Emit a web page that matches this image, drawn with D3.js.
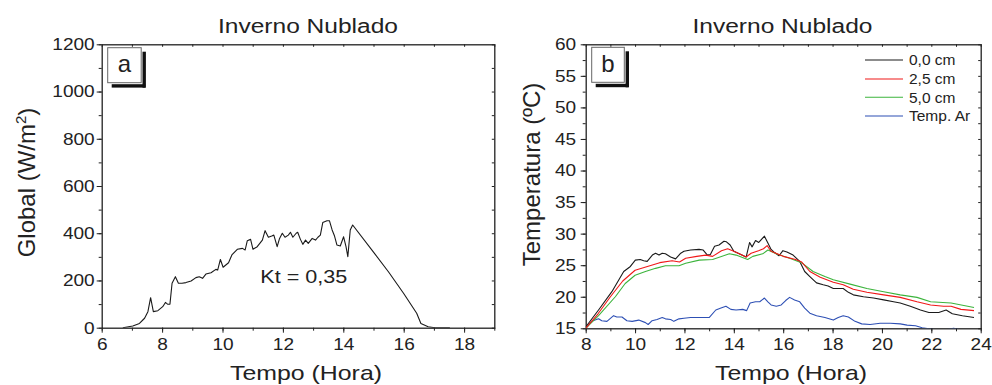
<!DOCTYPE html>
<html>
<head>
<meta charset="utf-8">
<script src="https://cdnjs.cloudflare.com/ajax/libs/d3/7.8.5/d3.min.js"></script>
<style>
  html, body { margin: 0; padding: 0; background: #fff; }
  svg { display: block; font-family: "Liberation Sans", Arial, sans-serif; }
</style>
</head>
<body>
<svg id="chart" width="992" height="385"></svg>
<script>
// ---------- Data ----------
const panelTitle = "Inverno Nublado";
const xAxisLabel = "Tempo (Hora)";

// Panel a: global radiation
const globalHours = [6.7, 7.03, 7.25, 7.42, 7.53, 7.62, 7.71, 7.86, 8.02, 8.11, 8.19, 8.26, 8.33, 8.44, 8.54, 8.66, 8.79, 8.96, 9.12, 9.23, 9.34, 9.45, 9.62, 9.78, 9.84, 9.93, 10.02, 10.2, 10.31, 10.49, 10.66, 10.75, 10.82, 10.93, 11.01, 11.15, 11.32, 11.41, 11.52, 11.63, 11.70, 11.81, 11.89, 11.98, 12.07, 12.18, 12.25, 12.33, 12.44, 12.49, 12.58, 12.66, 12.75, 12.84, 12.97, 13.08, 13.16, 13.24, 13.32, 13.46, 13.54, 13.63, 13.71, 13.79, 13.90, 14.01, 14.09, 14.15, 14.23, 14.31, 15.0, 15.5, 16.0, 16.43, 16.57, 16.81, 17.03, 17.53];
const globalValues = [0, 7, 18, 40, 68, 127, 68, 72, 89, 107, 99, 100, 188, 216, 188, 188, 191, 198, 212, 216, 209, 227, 233, 247, 244, 289, 256, 275, 308, 332, 336, 329, 368, 374, 332, 343, 371, 411, 383, 388, 392, 343, 378, 400, 383, 392, 404, 383, 400, 404, 374, 353, 371, 357, 378, 371, 383, 392, 445, 453, 453, 414, 388, 350, 346, 385, 343, 301, 414, 435, 320, 236, 145, 61, 18, 4, 0, 0];
const globalTicksX = [6, 8, 10, 12, 14, 16, 18];
const globalTicksY = [0, 200, 400, 600, 800, 1000, 1200];
const ktLabel = "Kt = 0,35";

// Panel b: temperatures
const seriesNames = ["0,0 cm", "2,5 cm", "5,0 cm", "Temp. Ar"];
const seriesColors = ["#1a1a1a", "#f01818", "#3cb43c", "#2d4fb4"];
const hours0 = [8.0, 8.52, 9.06, 9.54, 9.81, 10.01, 10.21, 10.35, 10.49, 10.7, 10.83, 10.97, 11.1, 11.23, 11.44, 11.64, 11.85, 11.98, 12.25, 12.59, 12.76, 12.93, 13.05, 13.22, 13.4, 13.6, 13.7, 13.85, 14.0, 14.22, 14.5, 14.64, 14.74, 14.88, 15.01, 15.24, 15.38, 15.51, 15.65, 15.83, 15.99, 16.15, 16.4, 16.67, 16.87, 17.08, 17.35, 17.62, 17.82, 18.03, 18.43, 18.64, 18.84, 19.25, 19.66, 20.07, 20.47, 20.74, 21.15, 21.56, 21.9, 22.3, 22.6, 22.85, 23.26, 23.73];
const temps0 = [15.2, 17.9, 20.8, 24.0, 24.8, 25.8, 25.9, 25.7, 25.6, 26.6, 26.9, 26.6, 26.9, 26.8, 26.3, 26.0, 26.9, 27.2, 27.4, 27.5, 27.4, 26.6, 26.7, 28.0, 28.2, 28.8, 28.7, 28.2, 27.2, 26.8, 26.3, 28.6, 27.9, 28.9, 28.6, 29.6, 28.5, 27.5, 27.0, 26.5, 27.3, 27.1, 26.6, 25.6, 24.0, 23.2, 22.2, 21.9, 21.7, 21.3, 21.3, 20.7, 20.3, 20.0, 19.8, 19.5, 19.2, 19.0, 18.5, 17.9, 17.5, 17.5, 17.9, 17.3, 17.0, 16.7];
const hours1 = [8.0, 8.5, 9.0, 9.5, 10.0, 10.5, 11.0, 11.5, 11.8, 12.05, 12.5, 12.86, 13.14, 13.5, 13.75, 14.0, 14.5, 14.7, 15.0, 15.2, 15.35, 15.51, 16.0, 16.5, 16.75, 17.08, 17.5, 18.03, 18.43, 18.84, 19.39, 20.07, 20.74, 21.42, 21.97, 22.5, 22.8, 23.2, 23.73];
const temps1 = [15.0, 17.3, 20.0, 22.5, 24.2, 24.8, 25.4, 25.7, 25.5, 26.1, 26.4, 26.6, 26.4, 27.3, 27.6, 27.2, 26.3, 26.9, 27.3, 27.6, 28.1, 27.2, 26.4, 25.9, 25.5, 24.0, 23.1, 22.3, 21.9, 21.2, 20.7, 20.3, 19.9, 19.2, 18.7, 18.5, 18.5, 18.0, 17.8];
const hours2 = [8.0, 8.52, 9.2, 9.6, 10.0, 10.42, 10.83, 11.23, 11.78, 12.05, 12.6, 13.14, 13.82, 14.09, 14.56, 14.77, 15.17, 15.38, 15.72, 16.26, 16.74, 17.21, 17.69, 18.03, 18.71, 19.39, 20.07, 20.74, 21.42, 21.97, 22.8, 23.73];
const temps2 = [15.0, 17.0, 20.0, 22.1, 23.4, 24.0, 24.5, 24.9, 24.9, 25.3, 25.8, 25.9, 26.8, 26.6, 25.9, 26.4, 26.8, 27.4, 26.8, 26.1, 25.4, 24.0, 23.2, 22.7, 22.0, 21.3, 20.8, 20.3, 19.9, 19.2, 19.0, 18.3];
const hours3 = [8.0, 8.24, 8.52, 8.65, 8.86, 9.13, 9.26, 9.47, 9.67, 9.88, 10.15, 10.42, 10.53, 10.69, 10.89, 11.1, 11.23, 11.44, 11.57, 11.78, 11.98, 12.25, 12.6, 13.0, 13.27, 13.48, 13.68, 13.88, 14.09, 14.36, 14.52, 14.66, 14.88, 15.05, 15.24, 15.38, 15.51, 15.72, 15.92, 16.1, 16.26, 16.46, 16.67, 16.87, 17.08, 17.35, 17.69, 18.03, 18.23, 18.43, 18.64, 18.91, 19.18, 19.52, 19.93, 20.34, 20.74, 21.02, 21.36, 21.63, 21.97, 22.4, 22.9, 23.3, 23.73];
const temps3 = [15.0, 16.1, 16.5, 16.2, 16.1, 17.0, 16.8, 16.8, 16.2, 16.1, 16.3, 15.9, 15.6, 16.2, 16.4, 16.7, 16.5, 16.4, 16.1, 16.5, 16.6, 16.7, 16.7, 16.7, 17.9, 18.2, 18.5, 18.0, 17.9, 18.0, 17.8, 19.0, 19.2, 19.2, 19.8, 19.2, 18.7, 18.5, 18.7, 19.4, 19.9, 19.5, 19.2, 18.2, 17.4, 17.0, 16.7, 16.3, 16.7, 17.0, 16.8, 16.1, 15.7, 15.6, 15.8, 15.8, 15.7, 15.5, 15.4, 15.1, 14.9, 14.6, 15.0, 14.7, 14.5];
const tempTicksX = [8, 10, 12, 14, 16, 18, 20, 22, 24];
const tempTicksY = [15, 20, 25, 30, 35, 40, 45, 50, 55, 60];

// ---------- Drawing ----------
const svg = d3.select("#chart");

function stretch(sel, f) {
  sel.each(function () {
    const w = this.getComputedTextLength();
    d3.select(this).attr("textLength", w * f).attr("lengthAdjust", "spacingAndGlyphs");
  });
}

function drawPanel(o) {
  const g = svg.append("g");
  const x = d3.scaleLinear().domain(o.xDomain).range(o.xRange);
  const y = d3.scaleLinear().domain(o.yDomain).range(o.yRange);
  const [x0, x1] = o.xRange, [y0, y1] = [o.yRange[1], o.yRange[0]];

  const clipId = "clip" + o.id;
  svg.append("clipPath").attr("id", clipId).append("rect")
    .attr("x", x0).attr("y", y0).attr("width", x1 - x0).attr("height", y1 - y0);

  const xMinor = d3.range(o.xDomain[0], o.xDomain[1] + 0.001, o.xMinorStep);
  const yMinor = d3.range(o.yDomain[0], o.yDomain[1] + 0.001, o.yMinorStep);

  // minor ticks
  g.append("g").attr("transform", `translate(0,${y1})`)
    .call(d3.axisBottom(x).tickValues(xMinor).tickSize(3).tickFormat(""));
  g.append("g").attr("transform", `translate(${x0},0)`)
    .call(d3.axisLeft(y).tickValues(yMinor).tickSize(3).tickFormat(""));
  // inner mirrored ticks
  g.append("g").attr("transform", `translate(0,${y0})`)
    .call(d3.axisTop(x).tickValues(xMinor).tickSize(-2.5).tickFormat(""));
  g.append("g").attr("transform", `translate(${x1},0)`)
    .call(d3.axisRight(y).tickValues(yMinor).tickSize(-2.5).tickFormat(""));

  // major axes
  const bx = g.append("g").attr("transform", `translate(0,${y1})`)
    .call(d3.axisBottom(x).tickValues(o.xTicks).tickSize(5).tickPadding(5).tickFormat(d3.format("d")));
  const ly = g.append("g").attr("transform", `translate(${x0},0)`)
    .call(d3.axisLeft(y).tickValues(o.yTicks).tickSize(5).tickPadding(o.yPad).tickFormat(d3.format("d")));

  g.selectAll(".domain").remove();
  g.selectAll(".tick line").attr("stroke", "#222");
  [bx, ly].forEach(a => a.selectAll("text")
    .attr("font-size", 17).attr("fill", "#222")
    .attr("font-family", '"Liberation Sans", Arial, sans-serif'));
  stretch(bx.selectAll("text"), 1.12);
  stretch(ly.selectAll("text"), 1.12);

  // frame
  g.append("rect").attr("x", x0 + 0.5).attr("y", y0 + 0.5)
    .attr("width", x1 - x0).attr("height", y1 - y0)
    .attr("fill", "none").attr("stroke", "#222").attr("stroke-width", 1.3);

  // lines
  const plot = g.append("g").attr("clip-path", `url(#${clipId})`);
  o.series.forEach(s => {
    const pts = s.xs.map((h, i) => [h, s.ys[i]]);
    plot.append("path").datum(pts)
      .attr("fill", "none").attr("stroke", s.color).attr("stroke-width", 1.1)
      .attr("stroke-linejoin", "round")
      .attr("d", d3.line().x(d => x(d[0])).y(d => y(d[1])));
  });

  // title
  g.append("text").attr("x", o.titleX).attr("y", 33).attr("text-anchor", "middle")
    .attr("font-size", 20).attr("fill", "#222").attr("textLength", 180)
    .attr("lengthAdjust", "spacingAndGlyphs").text(panelTitle);
  // x label
  g.append("text").attr("x", o.xLabelX).attr("y", 380).attr("text-anchor", "middle")
    .attr("font-size", 21).attr("fill", "#222").attr("textLength", 152)
    .attr("lengthAdjust", "spacingAndGlyphs").text(xAxisLabel);
  // y label
  const yl = g.append("text").attr("transform", `translate(${o.yLabelX},${o.yLabelY}) rotate(-90)`)
    .attr("text-anchor", "middle").attr("font-size", 24).attr("fill", "#222");
  o.yLabel(yl);

  // letter box with shadow
  const b = o.box;
  g.append("rect").attr("x", b.x + 4).attr("y", b.y + b.h + 1.5).attr("width", b.w).attr("height", 3.4).attr("fill", "#111");
  g.append("rect").attr("x", b.x + b.w + 1.3).attr("y", b.y + 4).attr("width", 3.4).attr("height", b.h + 1).attr("fill", "#111");
  g.append("rect").attr("x", b.x).attr("y", b.y).attr("width", b.w).attr("height", b.h)
    .attr("fill", "#fff").attr("stroke", "#666").attr("stroke-width", 1);
  g.append("text").attr("x", b.x + b.w / 2).attr("y", b.y + 24.5).attr("text-anchor", "middle")
    .attr("font-size", 24).attr("fill", "#222").text(b.label);

  return { g, x, y };
}

// Panel a
const pa = drawPanel({
  id: "a",
  xDomain: [6, 19], xRange: [101.7, 494.3],
  yDomain: [0, 1200], yRange: [327.7, 44.3],
  xTicks: globalTicksX, yTicks: globalTicksY,
  xMinorStep: 1, yMinorStep: 100, yPad: 2,
  series: [{ xs: globalHours, ys: globalValues, color: "#1a1a1a" }],
  titleX: 308, xLabelX: 306, yLabelX: 35, yLabelY: 182.5,
  yLabel: t => {
    t.append("tspan").text("Global (W/m");
    t.append("tspan").attr("font-size", 15).attr("dy", -9).text("2");
    t.append("tspan").attr("dy", 9).text(")");
  },
  box: { x: 107.7, y: 47.7, w: 33.5, h: 35, label: "a" }
});
pa.g.append("text").attr("x", 303.8).attr("y", 283.3).attr("text-anchor", "middle")
  .attr("font-size", 17.5).attr("fill", "#222").attr("textLength", 87)
  .attr("lengthAdjust", "spacingAndGlyphs").text(ktLabel);

// Panel b
const tempSeries = [
  { xs: hours0, ys: temps0 },
  { xs: hours1, ys: temps1 },
  { xs: hours2, ys: temps2 },
  { xs: hours3, ys: temps3 }
].map((s, i) => ({ ...s, color: seriesColors[i], name: seriesNames[i] }));
const drawOrder = [3, 0, 2, 1].map(i => tempSeries[i]);

const pb = drawPanel({
  id: "b",
  xDomain: [8, 24], xRange: [585.7, 980.7],
  yDomain: [15, 60], yRange: [328.3, 44.3],
  xTicks: tempTicksX, yTicks: tempTicksY,
  xMinorStep: 1, yMinorStep: 2.5, yPad: 4.5,
  series: drawOrder,
  titleX: 782.5, xLabelX: 791, yLabelX: 539.5, yLabelY: 174.5,
  yLabel: t => t.text("Temperatura (ºC)"),
  box: { x: 591.7, y: 47.3, w: 32.6, h: 35, label: "b" }
});

// legend
const legendY = [60, 79, 97.3, 116];
const leg = pb.g.append("g");
tempSeries.forEach((s, i) => {
  leg.append("line").attr("x1", 865).attr("x2", 903).attr("y1", legendY[i]).attr("y2", legendY[i])
    .attr("stroke", s.color).attr("stroke-width", 1.1);
  leg.append("text").attr("x", 909).attr("y", legendY[i]).attr("dy", "0.35em")
    .attr("font-size", 15.5).attr("fill", "#222").text(s.name);
});
</script>
</body>
</html>
